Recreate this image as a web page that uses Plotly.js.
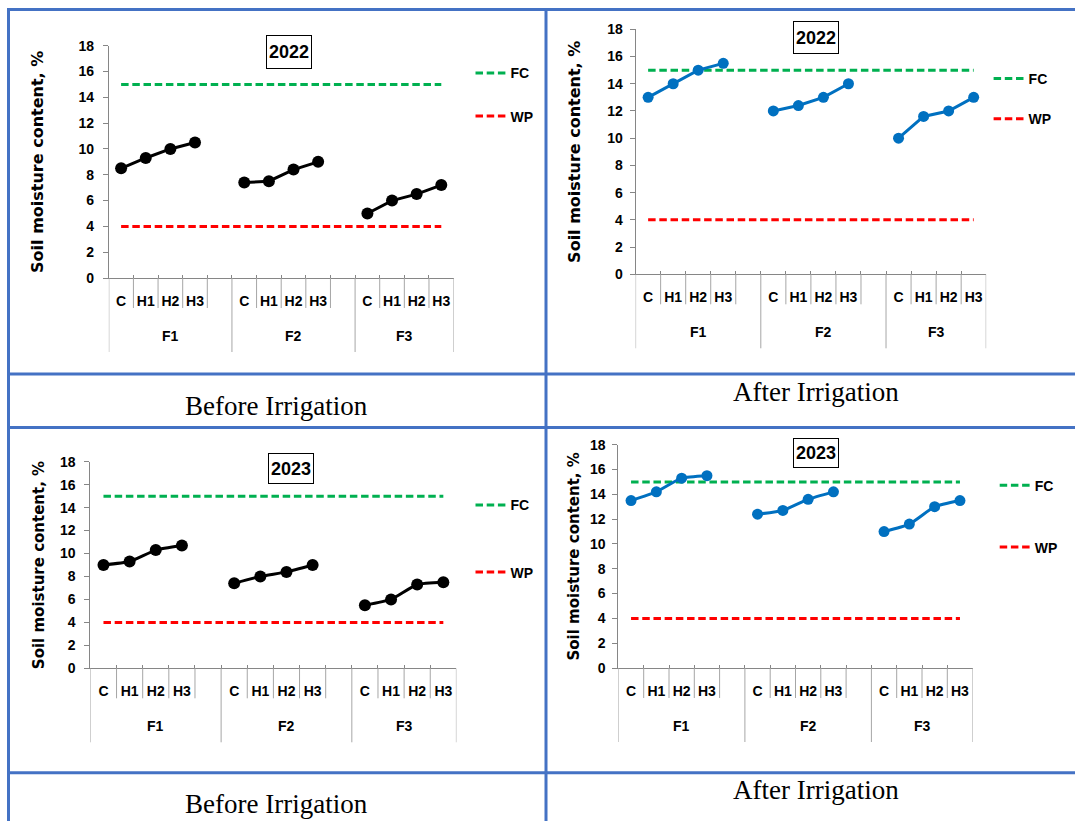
<!DOCTYPE html>
<html><head><meta charset="utf-8">
<script src="https://cdn.plot.ly/plotly-3.0.1.min.js"></script>
<style>html,body{margin:0;padding:0;background:#fff;} #chart{width:1075px;height:821px;}</style>
</head><body><div id="chart"></div>
<script>
// ---------------- data ----------------
const groups = ['F1', 'F2', 'F3'];
const treatments = ['C', 'H1', 'H2', 'H3'];
const before2022 = [8.5, 9.3, 10.0, 10.5, 7.4, 7.5, 8.4, 9.0, 5.0, 6.0, 6.5, 7.2];
const after2022  = [13.0, 14.0, 15.0, 15.5, 12.0, 12.4, 13.0, 14.0, 10.0, 11.6, 12.0, 13.0];
const before2023 = [9.0, 9.3, 10.3, 10.7, 7.4, 8.0, 8.4, 9.0, 5.5, 6.0, 7.3, 7.5];
const after2023  = [13.5, 14.2, 15.3, 15.5, 12.4, 12.7, 13.6, 14.2, 11.0, 11.6, 13.0, 13.5];
const fcLine = [15, 15, 15, 15, 15, 15, 15, 15, 15, 15, 15, 15, 15, 15];
const wpLine = [4, 4, 4, 4, 4, 4, 4, 4, 4, 4, 4, 4, 4, 4];
const yearLabels = ['2022', '2022', '2023', '2023'];
const captions = ['Before Irrigation', 'After Irrigation', 'Before Irrigation', 'After Irrigation'];
const yTitle = 'Soil moisture content, %';

// ---------------- helpers ----------------
const W = 1075, H = 821;
const fx = x => x / W, fy = y => 1 - y / H;
const LAB = 'Liberation Sans, Arial, sans-serif';
const AXC = '#868686', DIVC = '#A6A6A6', BLUE_BORDER = '#4472C4';

// category slots: 4 treatments per group, an empty slot between groups
const cats = [], catText = [];
groups.forEach((g, gi) => {
  treatments.forEach(t => { cats.push(g + '|' + t); catText.push(t); });
  if (gi < groups.length - 1) { cats.push(g + '|gap'); catText.push(''); }
});
function spread(vals) {
  const out = []; let k = 0;
  groups.forEach((g, gi) => {
    treatments.forEach(() => out.push(vals[k++]));
    if (gi < groups.length - 1) out.push(null);
  });
  return out;
}

const panels = [
  {vals: before2022, color: '#000000', ms: 12, smooth: false, L: 108.8, R: 453.6, T: 45.7, B: 278,
   box: [288.5, 52.2], boxH: 28, cap: [276, 406], legX: 470.5, fcY: 73.3, wpY: 117.3, tfs: 16, tso: 30, lso: 6},
  {vals: after2022, color: '#0070C0', ms: 11, smooth: false, L: 635.6, R: 986.2, T: 29.3, B: 274.3,
   box: [815.5, 37.5], boxH: 27, cap: [815.5, 392], legX: 988.6, fcY: 79, wpY: 120, tfs: 16, tso: 22, lso: 4},
  {vals: before2023, color: '#000000', ms: 12, smooth: true, L: 90.4, R: 456.4, T: 461.7, B: 668.3,
   box: [291, 468.2], boxH: 25, cap: [276, 804], legX: 470.5, fcY: 505.3, wpY: 573.3, tfs: 15, tso: 11, lso: 6},
  {vals: after2023, color: '#0070C0', ms: 11, smooth: true, L: 618.4, R: 972.6, T: 444.7, B: 668,
   box: [816.3, 452.7], boxH: 24, cap: [815.5, 790], legX: 994.7, fcY: 485.7, wpY: 548.3, tfs: 15, tso: 6, lso: 4}
];

const traces = [], shapes = [], annotations = [];
const layout = {
  width: W, height: H, margin: {l: 0, r: 0, t: 0, b: 0},
  paper_bgcolor: '#ffffff', plot_bgcolor: 'rgba(0,0,0,0)', showlegend: true,
  font: {family: LAB, color: '#000000'}
};

panels.forEach((p, i) => {
  const n = i === 0 ? '' : String(i + 1);
  const xa = 'x' + n, ya = 'y' + n;
  const legName = 'legend' + n;

  traces.push({
    type: 'scatter', mode: 'lines', x: cats, y: fcLine, xaxis: xa, yaxis: ya, name: 'FC',
    line: {color: '#00B050', width: 3, dash: '7.5px,3.7px'}, legend: legName, legendgroup: 'fc' + i,
    hoverinfo: 'skip'
  });
  traces.push({
    type: 'scatter', mode: 'lines', x: cats, y: wpLine, xaxis: xa, yaxis: ya, name: 'WP',
    line: {color: '#FF0000', width: 3, dash: '7.5px,3.7px'}, legend: legName, legendgroup: 'wp' + i,
    hoverinfo: 'skip'
  });
  traces.push({
    type: 'scatter', mode: 'lines+markers', x: cats, y: spread(p.vals), xaxis: xa, yaxis: ya,
    showlegend: false, connectgaps: false,
    line: {color: p.color, width: 3, shape: p.smooth ? 'spline' : 'linear', smoothing: 0.5},
    marker: {color: p.color, size: p.ms, symbol: 'circle'}
  });

  layout['xaxis' + n] = {
    domain: [fx(p.L), fx(p.R)], anchor: ya, type: 'category',
    categoryorder: 'array', categoryarray: cats, range: [-0.5, cats.length - 0.5],
    tickmode: 'array', tickvals: cats, ticktext: catText, tickangle: 0,
    ticks: 'inside', ticklen: 3, tickson: 'boundaries', tickcolor: AXC, tickwidth: 1,
    showline: true, linecolor: AXC, linewidth: 1, showgrid: false, zeroline: false,
    tickfont: {family: LAB, size: 14, color: '#000', weight: 'bold'},
    ticklabelstandoff: 10, fixedrange: true
  };
  layout['yaxis' + n] = {
    domain: [fy(p.B), fy(p.T)], anchor: xa, range: [0, 18], tick0: 0, dtick: 2,
    ticks: 'outside', ticklen: 5, tickcolor: AXC, showline: true, linecolor: AXC, linewidth: 1,
    showgrid: false, zeroline: false,
    tickfont: {family: LAB, size: 14, color: '#000', weight: 'bold'},
    ticklabelstandoff: p.lso, fixedrange: true,
    title: {text: yTitle, standoff: p.tso,
            font: {family: 'DejaVu Sans, Verdana, sans-serif', size: p.tfs, color: '#000', weight: 'bold'}}
  };

  layout[legName] = {
    x: fx(p.legX), y: fy(p.fcY - 16), xanchor: 'left', yanchor: 'top',
    bgcolor: 'rgba(0,0,0,0)', borderwidth: 0, tracegroupgap: (p.wpY - p.fcY) - 22,
    font: {family: LAB, size: 14, color: '#000', weight: 'bold'}, itemclick: false
  };

  // category dividers below the axis
  const base = fy(p.B);
  groups.forEach((g, gi) => {
    const idx = cats.map((c, k) => c.startsWith(g + '|') ? k : -1).filter(k => k >= 0);
    const first = idx[0], last = idx[idx.length - 1];
    shapes.push({type: 'line', xref: xa, yref: 'paper', x0: first - 0.5, x1: first - 0.5,
                 y0: base, y1: fy(p.B + 74), line: {color: DIVC, width: 1}});
    if (gi === groups.length - 1) {
      shapes.push({type: 'line', xref: xa, yref: 'paper', x0: last + 0.5, x1: last + 0.5,
                   y0: base, y1: fy(p.B + 74), line: {color: DIVC, width: 1}});
    }
    for (let k = first; k < last; k++) {
      shapes.push({type: 'line', xref: xa, yref: 'paper', x0: k + 0.5, x1: k + 0.5,
                   y0: base, y1: fy(p.B + 30), line: {color: DIVC, width: 1}});
    }
    // group label
    annotations.push({xref: xa, yref: 'paper', x: (first + last) / 2, y: fy(p.B + 58),
                      xanchor: 'center', yanchor: 'middle', showarrow: false, text: g,
                      font: {family: LAB, size: 14, color: '#000', weight: 'bold'}});
  });

  // year box
  annotations.push({xref: 'paper', yref: 'paper', x: fx(p.box[0]), y: fy(p.box[1]),
                    xanchor: 'center', yanchor: 'middle', showarrow: false, text: yearLabels[i],
                    width: 40, height: p.boxH, align: 'center', valign: 'middle',
                    bordercolor: '#000', borderwidth: 1, borderpad: 2, bgcolor: '#fff',
                    font: {family: LAB, size: 18, color: '#000', weight: 'bold'}});
  // caption
  annotations.push({xref: 'paper', yref: 'paper', x: fx(p.cap[0]), y: fy(p.cap[1]),
                    xanchor: 'center', yanchor: 'middle', showarrow: false, text: captions[i],
                    font: {family: 'Liberation Serif, Times New Roman, serif', size: 27, color: '#000'}});
});

// table borders
const hLines = [9.5, 374, 427.5, 772.7];
hLines.forEach(y => shapes.push({type: 'line', xref: 'paper', yref: 'paper', x0: fx(7), x1: 1,
  y0: fy(y), y1: fy(y), line: {color: BLUE_BORDER, width: 3}}));
[8.5, 546].forEach(x => shapes.push({type: 'line', xref: 'paper', yref: 'paper', x0: fx(x), x1: fx(x),
  y0: fy(8), y1: 0, line: {color: BLUE_BORDER, width: 3}}));

layout.shapes = shapes;
layout.annotations = annotations;

Plotly.newPlot('chart', traces, layout, {displayModeBar: false, staticPlot: true});
</script>
</body></html>
